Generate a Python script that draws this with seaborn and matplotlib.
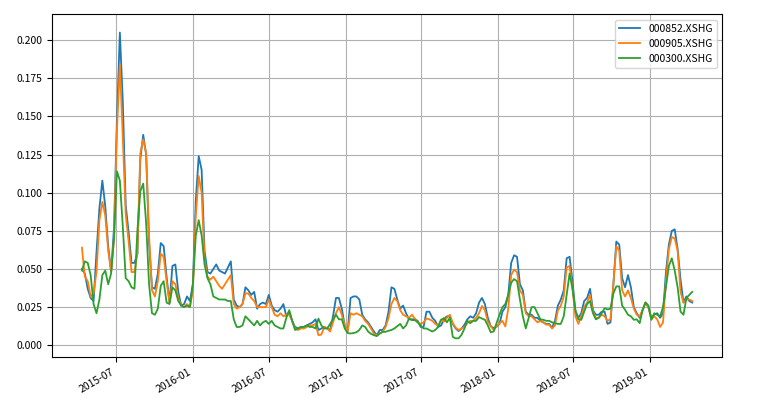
import pandas as pd
import numpy as np
import seaborn as sns
import matplotlib.pyplot as plt
import matplotlib.dates as mdates

# weekly samples
start_date = "2015-04-10"
n_points = 210

vol_000852 = [
    0.050, 0.047, 0.037, 0.031, 0.029, 0.061, 0.090, 0.108, 0.091, 0.065,
    0.048, 0.077, 0.148, 0.205, 0.160, 0.092, 0.074, 0.054, 0.054, 0.060,
    0.122, 0.138, 0.125, 0.067, 0.038, 0.037, 0.047, 0.067, 0.065, 0.045,
    0.028, 0.052, 0.053, 0.035, 0.026, 0.027, 0.032, 0.029, 0.040, 0.095,
    0.124, 0.115, 0.062, 0.048, 0.047, 0.050, 0.053, 0.049, 0.048, 0.047,
    0.051, 0.055, 0.030, 0.026, 0.025, 0.027, 0.038, 0.036, 0.033, 0.035,
    0.024, 0.027, 0.028, 0.027, 0.033, 0.026, 0.023, 0.022, 0.024, 0.027,
    0.019, 0.022, 0.016, 0.012, 0.011, 0.012, 0.012, 0.013, 0.014, 0.015,
    0.017, 0.010, 0.011, 0.012, 0.011, 0.010, 0.019, 0.031, 0.031, 0.024,
    0.013, 0.009, 0.031, 0.032, 0.032, 0.030, 0.020, 0.017, 0.015, 0.012,
    0.009, 0.0066, 0.010, 0.010, 0.013, 0.022, 0.038, 0.037, 0.030, 0.024,
    0.026, 0.021, 0.017, 0.017, 0.017, 0.016, 0.012, 0.012, 0.022, 0.022,
    0.018, 0.016, 0.012, 0.013, 0.017, 0.019, 0.019, 0.014, 0.011, 0.0093,
    0.011, 0.0134, 0.017, 0.019, 0.018, 0.021, 0.028, 0.031, 0.027, 0.018,
    0.0125, 0.0112, 0.0123, 0.014, 0.022, 0.025, 0.033, 0.054, 0.059, 0.058,
    0.040, 0.036, 0.022, 0.020, 0.020, 0.018, 0.018, 0.016, 0.015, 0.014,
    0.014, 0.0115, 0.016, 0.026, 0.030, 0.036, 0.057, 0.058, 0.042, 0.022,
    0.018, 0.021, 0.029, 0.031, 0.037, 0.023, 0.020, 0.020, 0.022, 0.022,
    0.014, 0.015, 0.040, 0.068, 0.066, 0.044, 0.038, 0.046, 0.038, 0.025,
    0.021, 0.018, 0.023, 0.028, 0.025, 0.018, 0.020, 0.021, 0.018, 0.021,
    0.048, 0.066, 0.075, 0.076, 0.063, 0.043, 0.028, 0.032, 0.029, 0.028,
]

vol_000905 = [
    0.064, 0.045, 0.042, 0.032, 0.034, 0.048, 0.082, 0.094, 0.085, 0.062,
    0.049, 0.070, 0.141, 0.184, 0.136, 0.086, 0.068, 0.048, 0.048, 0.060,
    0.126, 0.135, 0.126, 0.072, 0.036, 0.032, 0.042, 0.060, 0.058, 0.042,
    0.028, 0.042, 0.040, 0.031, 0.026, 0.025, 0.027, 0.025, 0.036, 0.085,
    0.111, 0.100, 0.056, 0.045, 0.043, 0.045, 0.042, 0.039, 0.037, 0.040,
    0.043, 0.046, 0.027, 0.024, 0.025, 0.027, 0.034, 0.034, 0.031, 0.029,
    0.025, 0.025, 0.025, 0.025, 0.030, 0.025, 0.020, 0.019, 0.021, 0.019,
    0.020, 0.020, 0.016, 0.011, 0.010, 0.011, 0.011, 0.012, 0.013, 0.013,
    0.014, 0.0066, 0.007, 0.012, 0.011, 0.009, 0.015, 0.021, 0.025, 0.020,
    0.013, 0.009, 0.021, 0.020, 0.021, 0.020, 0.019, 0.016, 0.014, 0.011,
    0.0075, 0.0066, 0.0077, 0.0088, 0.012, 0.018, 0.027, 0.031, 0.029, 0.023,
    0.020, 0.019, 0.018, 0.020, 0.0175, 0.015, 0.014, 0.015, 0.0175, 0.017,
    0.016, 0.014, 0.013, 0.0167, 0.0155, 0.018, 0.020, 0.0145, 0.0115, 0.010,
    0.011, 0.012, 0.0145, 0.016, 0.016, 0.018, 0.021, 0.0258, 0.023, 0.0155,
    0.0125, 0.010, 0.0123, 0.0145, 0.016, 0.0123, 0.024, 0.046, 0.0496, 0.048,
    0.036, 0.033, 0.021, 0.019, 0.019, 0.017, 0.015, 0.016, 0.015, 0.0135,
    0.0135, 0.011, 0.013, 0.023, 0.026, 0.032, 0.051, 0.052, 0.037, 0.019,
    0.014, 0.019, 0.025, 0.028, 0.033, 0.022, 0.018, 0.018, 0.020, 0.019,
    0.016, 0.017, 0.040, 0.065, 0.062, 0.036, 0.032, 0.036, 0.031, 0.024,
    0.020, 0.019, 0.023, 0.028, 0.025, 0.017, 0.019, 0.017, 0.012, 0.015,
    0.042, 0.063, 0.071, 0.070, 0.062, 0.035, 0.028, 0.030, 0.030, 0.029,
]

vol_000300 = [
    0.049, 0.055, 0.054, 0.046, 0.027, 0.021, 0.030, 0.046, 0.049, 0.040,
    0.047, 0.070, 0.114, 0.108, 0.078, 0.044, 0.042, 0.038, 0.037, 0.075,
    0.101, 0.106, 0.080, 0.040, 0.021, 0.020, 0.024, 0.039, 0.042, 0.028,
    0.027, 0.038, 0.036, 0.029, 0.026, 0.025, 0.026, 0.025, 0.040, 0.072,
    0.082, 0.072, 0.053, 0.044, 0.040, 0.032, 0.031, 0.030, 0.030, 0.030,
    0.029, 0.029, 0.017, 0.012, 0.012, 0.013, 0.019, 0.017, 0.015, 0.013,
    0.016, 0.013, 0.015, 0.016, 0.014, 0.016, 0.013, 0.012, 0.011, 0.011,
    0.018, 0.023, 0.016, 0.010, 0.011, 0.012, 0.012, 0.013, 0.012, 0.012,
    0.011, 0.0175, 0.013, 0.011, 0.011, 0.014, 0.017, 0.020, 0.017, 0.017,
    0.011, 0.008, 0.0077, 0.008, 0.0085, 0.010, 0.013, 0.012, 0.009, 0.0075,
    0.0066, 0.006, 0.0077, 0.0088, 0.0088, 0.0095, 0.010, 0.011, 0.0125, 0.014,
    0.011, 0.013, 0.0175, 0.0165, 0.0165, 0.015, 0.013, 0.011, 0.011, 0.010,
    0.009, 0.010, 0.012, 0.0167, 0.0178, 0.015, 0.018, 0.0055, 0.0045, 0.0046,
    0.0068, 0.011, 0.016, 0.0145, 0.016, 0.016, 0.0185, 0.0175, 0.0167, 0.013,
    0.0085, 0.009, 0.0145, 0.020, 0.025, 0.027, 0.033, 0.041, 0.0434, 0.042,
    0.030, 0.019, 0.011, 0.018, 0.025, 0.025, 0.021, 0.017, 0.0167, 0.016,
    0.016, 0.015, 0.0145, 0.014, 0.014, 0.019, 0.033, 0.047, 0.037, 0.023,
    0.017, 0.0167, 0.022, 0.027, 0.029, 0.021, 0.017, 0.018, 0.021, 0.0243,
    0.0235, 0.024, 0.034, 0.0386, 0.0386, 0.026, 0.0232, 0.020, 0.019, 0.0167,
    0.017, 0.0145, 0.023, 0.028, 0.026, 0.0167, 0.021, 0.020, 0.019, 0.025,
    0.038, 0.052, 0.057, 0.049, 0.038, 0.022, 0.020, 0.031, 0.033, 0.035,
]

codes = ["000852.XSHG", "000905.XSHG", "000300.XSHG"]

dates = pd.date_range(start_date, periods=n_points, freq="7D")
df = pd.DataFrame({codes[0]: vol_000852, codes[1]: vol_000905, codes[2]: vol_000300}, index=dates)
long_df = df.reset_index().melt(id_vars="index", var_name="code", value_name="vol")

plt.rcParams['font.family'] = ['Noto Sans CJK SC', 'DejaVu Sans']
plt.rcParams['font.size'] = 7.5

fig = plt.figure(figsize=(7.61, 3.97), dpi=100)
ax = fig.add_axes([0.0687, 0.100, 0.8804, 0.864])
sns.lineplot(data=long_df, x="index", y="vol", hue="code", hue_order=codes,
             palette=["#1f77b4", "#ff7f0e", "#2ca02c"], linewidth=1.3, ax=ax)

ax.grid(True, color="#b0b0b0", linewidth=0.8)
ax.set_xlim(pd.Timestamp("2015-01-29"), pd.Timestamp("2019-06-23"))
ax.set_ylim(-0.0079, 0.217)
ax.set_yticks(np.arange(0, 0.201, 0.025))
ax.yaxis.set_major_formatter(plt.FormatStrFormatter("%.3f"))
ax.xaxis.set_major_locator(mdates.MonthLocator(bymonth=[1, 7]))
ax.xaxis.set_major_formatter(mdates.DateFormatter("%Y-%m"))
for lbl in ax.get_xticklabels():
    lbl.set_rotation(30)
    lbl.set_ha("right")
ax.set_xlabel("")
ax.set_ylabel("")
ax.legend(loc="upper right", title=None)

fig.savefig("out.png", dpi=100)
